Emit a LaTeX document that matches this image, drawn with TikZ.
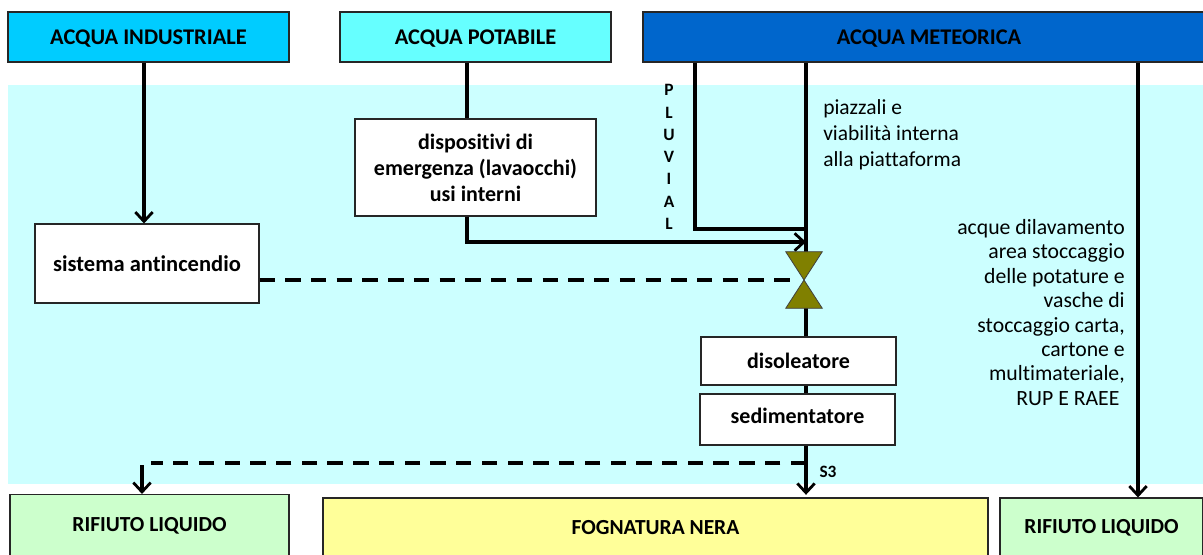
\documentclass[tikz,border=0pt]{standalone}
\usepackage{fontspec}
\setmainfont[RawFeature={-liga;-dlig;-clig}]{Carlito}
\usetikzlibrary{arrows.meta, positioning, calc}

\definecolor{industrial_col}{HTML}{00CCFF}
\definecolor{potable_col}{HTML}{66FFFF}
\definecolor{rain_col}{HTML}{0066CC}
\definecolor{plant_col}{HTML}{CCFFFF}
\definecolor{waste_col}{HTML}{CCFFCC}
\definecolor{sewer_col}{HTML}{FFFF99}
\definecolor{valve_col}{HTML}{808000}

\begin{document}
\begin{tikzpicture}[x=0.75pt, y=-0.75pt,
        box_label/.style={draw=black!85, line width=0.8pt, inner sep=0pt, align=center, font=\fontsize{16.5}{19.5}\selectfont\bfseries},
        source_label/.style={box_label, minimum height=37.5pt, text depth=0pt, font=\fontsize{16.8}{19.5}\selectfont\bfseries},
        outlet_label/.style={box_label, font=\fontsize{16.1}{19.5}\selectfont\bfseries},
        note_label/.style={inner sep=0pt, font=\fontsize{16.1}{19.5}\selectfont},
        flow/.style={line width=2.3pt},
        flow_arrow/.style={flow, -{Straight Barb[length=7pt, width=13pt, line width=2.1pt]}},
        flow_dashed/.style={flow, dash pattern=on 11.5pt off 7.8pt}]

        \useasboundingbox (0,0) rectangle (1203,554);

        % Background of the plant area
        \fill[plant_col] (8,85) rectangle (1203,484);

        % Water sources
        \node[source_label, fill=industrial_col, minimum width=210.75pt] (industrial) at (148.5,37) {ACQUA INDUSTRIALE};
        \node[source_label, fill=potable_col, minimum width=203.25pt] (potable) at (475.5,37) {ACQUA POTABILE};
        \node[source_label, fill=rain_col, minimum width=429pt] (rain) at (929,37) {ACQUA METEORICA};

        % Boxes inside the plant
        \node[box_label, fill=white, minimum width=180.75pt, minimum height=72.75pt] (devices) at (475.5,167.5) {dispositivi di\\emergenza (lavaocchi)\\usi interni};
        \node[box_label, fill=white, minimum width=168pt, minimum height=59.25pt, font=\fontsize{16.9}{19.5}\selectfont\bfseries] (fire) at (147,263.5) {sistema antincendio};
        \node[box_label, fill=white, minimum width=146.25pt, minimum height=36pt] (oil) at (798.5,361) {disoleatore};
        \node[box_label, fill=white, minimum width=146.25pt, minimum height=38.25pt, text depth=6pt] (sediment) at (797.5,419.5) {sedimentatore};

        % Outlets
        \node[outlet_label, fill=waste_col, minimum width=209.25pt, minimum height=46.5pt] (waste_left) at (149.5,525.5) {RIFIUTO LIQUIDO};
        \node[outlet_label, fill=sewer_col, minimum width=498.75pt, minimum height=45pt] (sewer) at (655.5,528) {FOGNATURA NERA};
        \node[outlet_label, fill=waste_col, minimum width=152.25pt, minimum height=45pt] (waste_right) at (1101.5,528) {RIFIUTO LIQUIDO};

        % Valve
        \node[minimum width=27pt, minimum height=42pt, inner sep=0pt] (valve) at (804,280) {};

        % Reference points of the vertical lines
        \coordinate (main_x) at (806,0);
        \coordinate (pluvial_x) at (695,0);
        \coordinate (right_x) at (1138,0);
        \coordinate (potable_x) at (467,0);
        \coordinate (join_pluvial) at (806,229);
        \coordinate (join_devices) at (806,242);
        \coordinate (fire_x) at (144,0);
        \coordinate (bypass) at (806,463);
        \coordinate (bypass_end) at (151,463);
        \coordinate (waste_out) at (142,465);

        \draw[flow_arrow] (industrial.south -| fire_x) -- (fire.north -| fire_x);
        \draw[flow] (potable.south -| potable_x) -- (devices.north -| potable_x);
        \draw[flow_arrow] (devices.south -| potable_x) |- (join_devices);
        \draw[flow] (rain.south -| pluvial_x) |- (join_pluvial);
        \draw[flow] (rain.south -| main_x) -- (valve.north -| main_x);
        \draw[flow_arrow] (rain.south -| right_x) -- (waste_right.north -| right_x);
        \draw[flow] (valve.south -| main_x) -- (oil.north -| main_x);
        \draw[flow] (oil.south -| main_x) -- (sediment.north -| main_x);
        \draw[flow_arrow] (sediment.south -| main_x) -- ([yshift=2pt]sewer.north -| main_x);
        \draw[flow_dashed] (fire.east |- valve) -- ([xshift=3pt]valve.west);
        \draw[flow_dashed] (bypass) -- (bypass_end);
        \draw[flow_arrow] (waste_out) -- (waste_left.north -| waste_out);

        % Valve drawn over the lines
        \draw[fill=valve_col, draw=black!75, line width=0.6pt] (valve.north west) -- (valve.north east) -- (valve.south west) -- (valve.south east) -- cycle;

        % Labels
        \node[font=\fontsize{13}{16.7}\selectfont\bfseries, align=center, inner sep=0pt] (pluvial) at (669,157) {P\\L\\U\\V\\I\\A\\L};
        \node[note_label, align=left, anchor=west] (yards) at (823,135) {piazzali e\\viabilità interna\\alla piattaforma};
        \node[note_label, align=right, anchor=east, font=\fontsize{16.3}{18.3}\selectfont] (wash) at (1125,312.5) {acque dilavamento\\area stoccaggio\\delle potature e\\vasche di\\stoccaggio carta,\\cartone e\hspace*{4pt}\\multimateriale,\\RUP E RAEE\hspace*{4pt}};
        \node[font=\fontsize{13}{13}\selectfont\bfseries, inner sep=0pt] (s3) at (828,472) {S3};
\end{tikzpicture}
\end{document}
